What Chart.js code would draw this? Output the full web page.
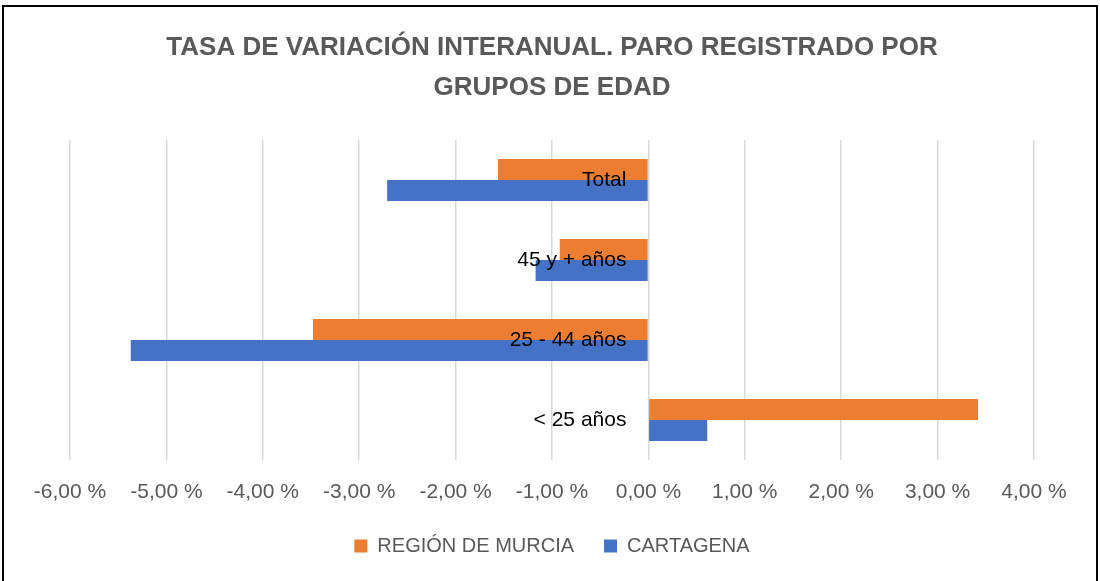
<!DOCTYPE html>
<html>
<head>
<meta charset="utf-8">
<script src="https://cdn.jsdelivr.net/npm/chart.js@4.4.1/dist/chart.umd.min.js"></script>
<style>
  html, body { margin: 0; padding: 0; background: #ffffff; }
  #wrap { position: relative; width: 1100px; height: 581px; }
  #frame { position: absolute; left: 2px; top: 5px; width: 1092px; height: 590px; border: 2px solid #000; pointer-events: none; }
  canvas { position: absolute; left: 0; top: 0; }
</style>
</head>
<body>
<div id="wrap">
  <canvas id="c" width="1100" height="581"></canvas>
  <div id="frame"></div>
</div>
<script>
const titleLines = ['TASA DE VARIACIÓN INTERANUAL. PARO REGISTRADO POR', 'GRUPOS DE EDAD'];
const categories = ['Total', '45 y + años', '25 - 44 años', '< 25 años'];
const seriesNames = ['REGIÓN DE MURCIA', 'CARTAGENA'];
const murciaValues = [-1.56, -0.92, -3.48, 3.42];
const cartagenaValues = [-2.71, -1.17, -5.37, 0.61];
const xTickValues = [-6, -5, -4, -3, -2, -1, 0, 1, 2, 3, 4];
const xTickLabels = ['-6,00 %', '-5,00 %', '-4,00 %', '-3,00 %', '-2,00 %', '-1,00 %', '0,00 %', '1,00 %', '2,00 %', '3,00 %', '4,00 %'];

const FONT = "'Liberation Sans', Arial, sans-serif";

new Chart(document.getElementById('c'), {
  type: 'bar',
  data: {
    labels: categories,
    datasets: [
      { label: seriesNames[0], data: murciaValues, backgroundColor: '#ED7D31', borderWidth: 0 },
      { label: seriesNames[1], data: cartagenaValues, backgroundColor: '#4472C4', borderWidth: 0 }
    ]
  },
  options: {
    indexAxis: 'y',
    responsive: false,
    animation: false,
    devicePixelRatio: 1,
    layout: { padding: { left: 70, right: 66, top: 0, bottom: 15 } },
    datasets: { bar: { categoryPercentage: 0.525, barPercentage: 1 } },
    scales: {
      x: {
        type: 'linear',
        min: xTickValues[0],
        max: xTickValues[xTickValues.length - 1],
        afterBuildTicks: (scale) => { scale.ticks = xTickValues.map(v => ({ value: v })); },
        afterFit: (scale) => { scale.height = 46; },
        grid: { color: '#D9D9D9', lineWidth: 1.5, drawTicks: false },
        border: { display: false },
        ticks: {
          color: '#595959',
          font: { family: FONT, size: 21 },
          padding: 20,
          maxRotation: 0,
          autoSkip: false,
          callback: (v) => xTickLabels[xTickValues.indexOf(v)]
        }
      },
      y: {
        type: 'category',
        position: { x: -0.228 },
        grid: { display: false, drawTicks: false },
        border: { display: false },
        ticks: {
          z: 1,
          color: '#000000',
          font: { family: FONT, size: 21 },
          padding: 0
        }
      }
    },
    plugins: {
      title: {
        display: true,
        text: titleLines,
        color: '#595959',
        font: { family: FONT, size: 26, weight: 'bold', lineHeight: 1.538 },
        padding: { top: 28, bottom: 32 }
      },
      legend: {
        position: 'bottom',
        labels: {
          color: '#595959',
          font: { family: FONT, size: 20 },
          boxWidth: 13,
          boxHeight: 13,
          padding: 30
        }
      },
      tooltip: { enabled: false }
    }
  }
});
</script>
</body>
</html>
